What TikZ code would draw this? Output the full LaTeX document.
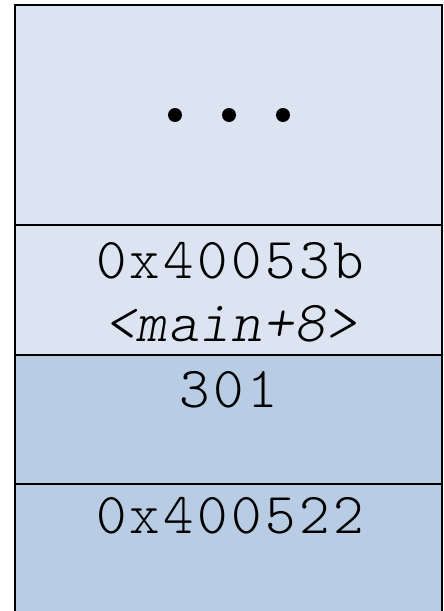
\documentclass[tikz,border=0pt]{standalone}
\usepackage{fontspec}
\setmonofont{Latin Modern Mono Light}
\definecolor{lightblue}{RGB}{219,228,240}
\definecolor{darkblue}{RGB}{184,204,228}
\begin{document}
\begin{tikzpicture}[x=1pt,y=-1pt,
  cell/.style={draw=black,line width=2pt},
  txt/.style={font=\ttfamily\fontsize{58}{58}\selectfont,inner sep=0pt,anchor=base},
  dot/.style={fill=black,circle,inner sep=0pt,minimum size=14pt}]
\useasboundingbox (0,0) rectangle (444,611);
\fill[lightblue] (15,5) rectangle (442,355);
\fill[darkblue] (15,355) rectangle (442,615);
\draw[cell] (15,620) -- (15,5) -- (442,5) -- (442,620);
\draw[cell] (15,225) -- (442,225);
\draw[cell] (15,355) -- (442,355);
\draw[cell] (15,484) -- (442,484);
\node[dot] (d1) at (175,115) {};
\node[dot] (d2) at (229,115) {};
\node[dot] (d3) at (283,115) {};
\node[txt] (a1) at (230,278) {\addfontfeature{LetterSpace=6}0x40053b};
\node[txt] (a2) at (231,341) {\itshape\addfontfeature{LetterSpace=2}<main+8>};
\node[txt] (a3) at (229,407) {\addfontfeature{LetterSpace=6}301};
\node[txt] (a4) at (230,533) {\addfontfeature{LetterSpace=6}0x400522};
\end{tikzpicture}
\end{document}
